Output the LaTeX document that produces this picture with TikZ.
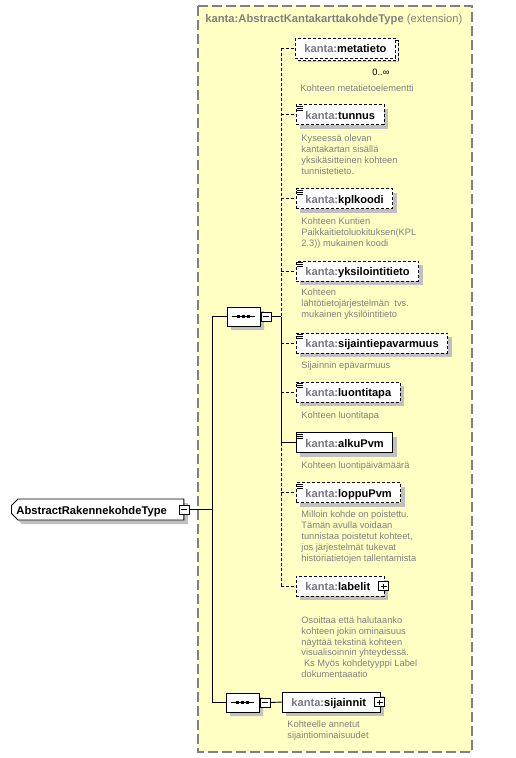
\documentclass[tikz,border=0pt]{standalone}
\usepackage{fontspec}
\setmainfont{Liberation Sans}
\usetikzlibrary{positioning, shadows, shapes.misc}

\definecolor{typebg}{RGB}{255,255,196}
\definecolor{typeborder}{RGB}{128,128,128}
\definecolor{prefixgray}{RGB}{118,118,134}
\definecolor{docgray}{RGB}{128,128,128}
\definecolor{shadegray}{RGB}{192,192,192}

\newcommand{\kanta}[1]{\textbf{{\color{prefixgray}kanta:}#1}}

\begin{document}
\begin{tikzpicture}[%
    x=1pt, y=-1pt,
    line width=0.9pt,
    shade/.style={drop shadow={shadow xshift=4pt, shadow yshift=-4pt,
        fill=shadegray, opacity=1}},
    opt/.style={dash pattern=on 3pt off 2pt},
    elem/.style={draw, fill=white, shade, anchor=west, minimum height=20pt,
      inner xsep=9pt, inner ysep=0pt, text height=9pt, text depth=0pt,
      font=\fontsize{11.1}{13}\selectfont},
    expand/.style={execute at end node={\hspace*{5pt}}},
    doc/.style={anchor=base west, align=left, inner sep=0pt, text=docgray,
      font=\fontsize{9.3}{10.9}\selectfont},
    seq/.style={chamfered rectangle, chamfered rectangle xsep=5pt,
      chamfered rectangle ysep=5pt, draw,
      fill=white, shade, minimum width=33pt, minimum height=19pt, inner sep=0pt},
    toggle/.style={draw, fill=white, line width=0.8pt, inner sep=0pt,
      minimum width=10pt, minimum height=9pt},
    minus/.style={toggle, path picture={
        \draw ([xshift=2pt]path picture bounding box.west)
          -- ([xshift=-2pt]path picture bounding box.east);}},
    plus/.style={toggle, path picture={
        \draw ([xshift=2pt]path picture bounding box.west)
          -- ([xshift=-2pt]path picture bounding box.east);
        \draw ([yshift=-2pt]path picture bounding box.north)
          -- ([yshift=2pt]path picture bounding box.south);}},
    root/.style={chamfered rectangle, chamfered rectangle xsep=3pt,
      chamfered rectangle corners={north west, south west},
      draw, fill=white, shade, anchor=west, minimum height=21pt,
      inner xsep=2pt, inner ysep=0pt, text height=9pt, text depth=0pt,
      font=\bfseries\fontsize{11.2}{13}\selectfont}
  ]
  \useasboundingbox (0,0) rectangle (515,758);

  % extension frame
  \draw[fill=typebg, draw=typeborder, line width=1.3pt,
    dash pattern=on 10pt off 4pt] (198,6) rectangle (472,752);
  \node[anchor=base west, inner sep=0pt, text=typeborder,
    font=\fontsize{11.2}{13}\selectfont] (title) at (205,22)
    {\textbf{kanta:AbstractKantakarttakohdeType} (extension)};

  % root and compositors
  \node[root, execute at end node={\hspace*{12pt}}] (rakenne) at (11,509.5)
    {AbstractRakennekohdeType};
  \node[minus] (rakenne toggle) at (rakenne.east) {};
  \node[seq] (seq main) at (243.5,316.5) {};
  \node[minus, right=0.5pt of seq main] (seq main toggle) {};
  \node[seq] (seq loc) at (242.5,702.5) {};
  \node[minus, right=0.5pt of seq loc] (seq loc toggle) {};
  \foreach \s in {seq main, seq loc} {
    \draw ([xshift=5pt]\s.west) -- ([xshift=-5pt]\s.east);
    \foreach \dx in {-5,0,5}
      \fill ([shift={(\dx-1.8,-1.8)}]\s.center) rectangle ++(3.6,3.6);
  }

  % elements
  \node[elem, opt, copy shadow={shadow xshift=2.5pt, shadow yshift=-2.5pt,
      fill=white, draw=black, opt}] (metatieto) at (295,48) {\kanta{metatieto}};
  \node[elem, opt] (tunnus) at (296,114.5) {\kanta{tunnus}};
  \node[elem, opt] (kplkoodi) at (296,198.5) {\kanta{kplkoodi}};
  \node[elem, opt] (yksilointitieto) at (296,271) {\kanta{yksilointitieto}};
  \node[elem, opt] (sijaintiepavarmuus) at (296,343) {\kanta{sijaintiepavarmuus}};
  \node[elem, opt] (luontitapa) at (296,392) {\kanta{luontitapa}};
  \node[elem] (alkuPvm) at (296,442.5) {\kanta{alkuPvm}};
  \node[elem, opt] (loppuPvm) at (296,492.5) {\kanta{loppuPvm}};
  \node[elem, opt, expand] (labelit) at (296,586) {\kanta{labelit}};
  \node[plus] (labelit toggle) at ([xshift=-1pt]labelit.east) {};
  \node[elem, expand] (sijainnit) at (282,702) {\kanta{sijainnit}};
  \node[plus] (sijainnit toggle) at ([xshift=-1pt]sijainnit.east) {};

  % simple content marks
  \foreach \e in {tunnus, kplkoodi, yksilointitieto, sijaintiepavarmuus,
      luontitapa, alkuPvm, loppuPvm}
    \foreach \dy in {2,4,6}
      \draw[line width=0.7pt] ([shift={(1,\dy)}]\e.north west) -- ++(6,0);

  % annotations (base = last line)
  \node[anchor=base west, inner sep=0pt, font=\fontsize{9.3}{11}\selectfont]
    (metatieto occ) at (372,75) {0..∞};
  \node[doc] (metatieto doc) at (300,91.5) {Kohteen metatietoelementti};
  \node[doc] (tunnus doc) at (301,174)
    {Kyseessä olevan\\kantakartan sisällä\\yksikäsitteinen kohteen\\tunnistetieto.};
  \node[doc] (kplkoodi doc) at (301,246.5)
    {Kohteen Kuntien\\Paikkaitietoluokituksen(KPL\\2.3)) mukainen koodi};
  \node[doc] (yksilointitieto doc) at (301,317)
    {Kohteen\\lähtötietojärjestelmän\ \ tvs.\\mukainen yksilöintitieto};
  \node[doc] (sijaintiepavarmuus doc) at (301,368.5) {Sijainnin epävarmuus};
  \node[doc] (luontitapa doc) at (301,418) {Kohteen luontitapa};
  \node[doc] (alkuPvm doc) at (301,468) {Kohteen luontipäivämäärä};
  \node[doc] (loppuPvm doc) at (301,561.5)
    {Milloin kohde on poistettu.\\Tämän avulla voidaan\\tunnistaa poistetut kohteet,\\%
     jos järjestelmät tukevat\\historiatietojen tallentamista};
  \node[doc] (labelit doc) at (301,677.7)
    {Osoittaa että halutaanko\\kohteen jokin ominaisuus\\näyttää tekstinä kohteen\\%
     visualisoinnin yhteydessä.\\\ Ks Myös kohdetyyppi Label\\dokumentaaatio};
  \node[doc] (sijainnit doc) at (287,738.5)
    {Kohteelle annetut\\sijaintiominaisuudet};

  % connectors
  \coordinate (trunk) at (212,509.5);
  \coordinate (bus) at (281,317);
  \draw (seq main.west) -- (seq main.west -| trunk) |- (seq loc.west);
  \draw (rakenne toggle.east) -- (rakenne toggle.east -| trunk);
  \draw (seq main toggle.east) -- (seq main toggle.east -| bus);
  \draw (seq loc toggle.east) -- (sijainnit.west);
  \draw[opt] (bus |- metatieto.west) -- (seq main toggle.east -| bus);
  \draw (seq main toggle.east -| bus) -- (bus |- alkuPvm.west);
  \draw[opt] (bus |- alkuPvm.west) -- (bus |- labelit.west);

  \path       (bus |- alkuPvm.west)            edge [   ] (alkuPvm)
              (bus |- metatieto.west)          edge [opt] (metatieto)
              (bus |- tunnus.west)             edge [opt] (tunnus)
              (bus |- kplkoodi.west)           edge [opt] (kplkoodi)
              (bus |- yksilointitieto.west)    edge [opt] (yksilointitieto)
              (bus |- sijaintiepavarmuus.west) edge [opt] (sijaintiepavarmuus)
              (bus |- luontitapa.west)         edge [opt] (luontitapa)
              (bus |- loppuPvm.west)           edge [opt] (loppuPvm)
              (bus |- labelit.west)            edge [opt] (labelit);
\end{tikzpicture}
\end{document}
